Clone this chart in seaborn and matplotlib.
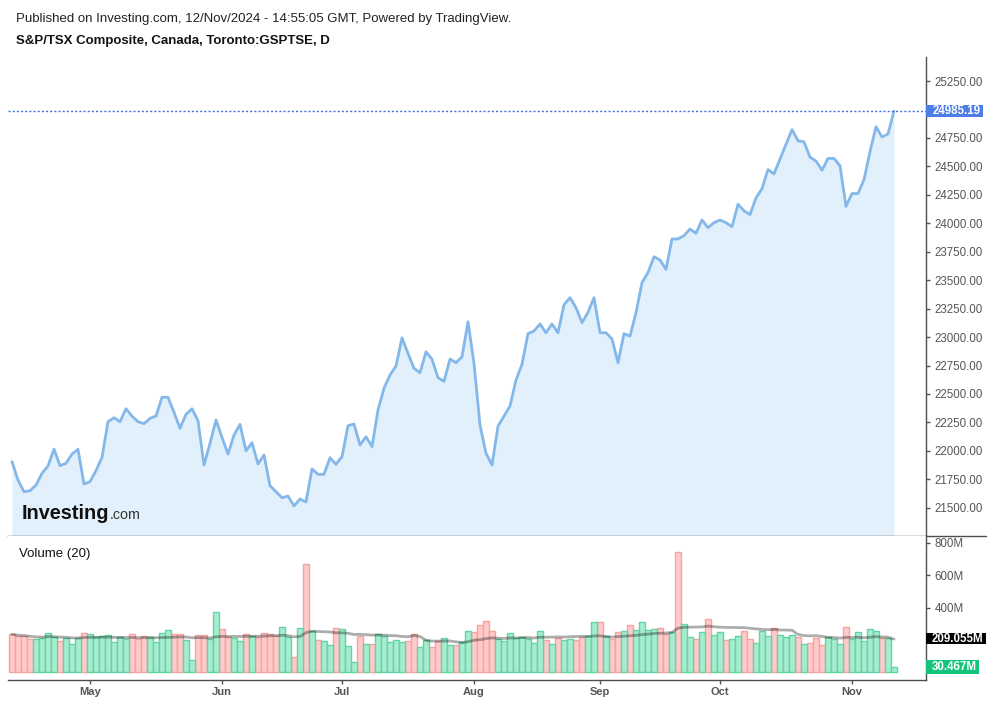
import numpy as np
import pandas as pd
import matplotlib
matplotlib.use("Agg")
import matplotlib.pyplot as plt
import matplotlib.transforms as mtransforms
from matplotlib.patches import Rectangle
from matplotlib.lines import Line2D
import seaborn as sns

sns.set_theme(style="white")
plt.rcParams['font.family'] = ['Liberation Sans', 'DejaVu Sans']

# ---------------- data ----------------
month_labels = ["May", "Jun", "Jul", "Aug", "Sep", "Oct", "Nov"]
month_pos = [13, 35, 55, 77, 98, 118, 140]   # trading-day index of first session of month

close = [21905, 21744, 21641, 21650, 21700, 21803, 21867, 22016, 21870, 21891,
         21972, 22014, 21709, 21729, 21826, 21943, 22256, 22291, 22256, 22370,
         22306, 22256, 22239, 22286, 22306, 22471, 22471, 22339, 22198, 22321,
         22370, 22265, 21876, 22066, 22271, 22119, 21972, 22139, 22233, 22001,
         22072, 21885, 21964, 21694, 21641, 21588, 21603, 21516, 21577, 21551,
         21841, 21794, 21794, 21940, 21882, 21949, 22221, 22236, 22052, 22124,
         22037, 22359, 22550, 22667, 22746, 22994, 22857, 22725, 22687, 22871,
         22805, 22643, 22611, 22807, 22775, 22827, 23135, 22769, 22227, 21979,
         21876, 22218, 22306, 22394, 22623, 22761, 23030, 23053, 23115, 23038,
         23115, 23038, 23284, 23346, 23258, 23126, 23218, 23346, 23038, 23038,
         22983, 22775, 23030, 23009, 23214, 23478, 23566, 23706, 23677, 23595,
         23862, 23862, 23891, 23950, 23912, 24029, 23961, 24005, 24029, 24005,
         23970, 24167, 24110, 24076, 24223, 24304, 24472, 24434, 24564, 24694,
         24823, 24725, 24716, 24580, 24547, 24466, 24570, 24570, 24505, 24148,
         24261, 24261, 24384, 24629, 24849, 24758, 24784, 24985.19]

volume_m = [235, 224, 224, 206, 206, 212, 241, 216, 192, 212,
            173, 212, 241, 235, 220, 224, 229, 185, 216, 204,
            235, 204, 222, 216, 185, 241, 260, 235, 235, 198,
            74, 229, 229, 204, 371, 266, 216, 212, 192, 235,
            224, 220, 243, 235, 224, 278, 216, 93, 272, 668,
            255, 200, 192, 169, 272, 266, 161, 62, 223, 175,
            175, 235, 223, 187, 198, 187, 192, 235, 155, 202,
            155, 192, 210, 167, 167, 185, 254, 247, 292, 315,
            254, 204, 192, 241, 210, 220, 204, 179, 254, 198,
            173, 210, 198, 204, 198, 216, 223, 309, 309, 223,
            204, 247, 254, 291, 260, 309, 260, 266, 272, 235,
            247, 742, 297, 216, 204, 247, 328, 229, 247, 198,
            204, 223, 255, 206, 179, 255, 223, 274, 229, 216,
            229, 216, 173, 179, 210, 167, 216, 204, 173, 278,
            206, 249, 194, 266, 255, 210, 210, 30.467]

direction = list("RRRRGGGGRGGGRGGGGGGGRRRGGGGRRGGRRGGRRGGR"
                 "GRRRRGGRGRGRGGRGGGRGRGGGGGRRGGRRGGRGGRRRRG"
                 "GGGGGGGRGRGGRRGGRGRRGRGGGGRRGRGGRGRGGRGGRRGGGRGGGRGRRRGGGRGGGGGRGG")

price_ticks = [21500 + 250 * k for k in range(16)]
vol_ticks = [0, 200, 400, 600, 800]
vol_tick_labels = ["", "", "400M", "600M", "800M"]
ma_label = "209.055M"
ma_last = 209.055

# ---------------- figure ----------------
W, H = 993, 704
fig = plt.figure(figsize=(W / 100, H / 100), dpi=100)
fig.patch.set_facecolor("white")


def rect(l, t, r, b):
    return [l / W, 1 - b / H, (r - l) / W, (b - t) / H]


axp = fig.add_axes(rect(8, 57, 926, 536))
axv = fig.add_axes(rect(8, 536, 926, 680))

n = len(close)
df = pd.DataFrame({"i": np.arange(n), "close": close, "vol": volume_m,
                   "dir": direction[:n]})
df["ma"] = df["vol"].rolling(20, min_periods=1).mean()

xlim = (-0.667, 152.333)
p_lo, p_hi = 21252, 25461

# price area
axp.fill_between(df["i"], df["close"], p_lo, color="#e1f0fa", lw=0, zorder=1)
sns.lineplot(data=df, x="i", y="close", ax=axp, color="#84b8ea", lw=2, zorder=3)
last = close[-1]
axp.axhline(last, color="#3f6fe0", lw=1, ls=(0, (1.5, 1.5)), zorder=4)
axp.set_xlim(*xlim)
axp.set_ylim(p_lo, p_hi)
axp.set_xticks([])
axp.set_xlabel("")
axp.set_ylabel("")
axp.yaxis.tick_right()
axp.set_yticks(price_ticks)
axp.set_yticklabels([f"{v:.2f}" for v in price_ticks])
axp.tick_params(axis="y", direction="out", length=3, width=1, color="#555555",
                labelcolor="#555555", labelsize=8.3, pad=3, right=True, left=False)
for s in ["left", "top"]:
    axp.spines[s].set_visible(False)
for s in ["right", "bottom"]:
    axp.spines[s].set_color("#4d4d4d")
    axp.spines[s].set_linewidth(1)

# last price label
trp = mtransforms.blended_transform_factory(axp.transAxes, axp.transData)
axp.add_patch(Rectangle((1.0, last - 50), 57 / 918, 100, transform=trp,
                        facecolor="#4d7ee8", edgecolor="none", clip_on=False, zorder=6))
axp.text(1.0 + 7 / 918, last, f"{last:.2f}", transform=trp, ha="left", va="center",
         color="white", fontsize=8.3, fontweight="bold", clip_on=False, zorder=7)

# volume bars
pal = {"G": "#a8ecd0", "R": "#ffcaca"}
sns.barplot(data=df, x="i", y="vol", hue="dir", palette=pal, dodge=False,
            native_scale=True, width=0.92, errorbar=None, legend=False,
            saturation=1, ax=axv, linewidth=1)
edge_for = {matplotlib.colors.to_hex(pal["G"]): "#5fd6a3",
            matplotlib.colors.to_hex(pal["R"]): "#f5a39d"}
for p in axv.patches:
    fc = matplotlib.colors.to_hex(p.get_facecolor()[:3])
    if fc in edge_for:
        p.set_edgecolor(edge_for[fc])
        p.set_linewidth(1)
sns.lineplot(data=df, x="i", y="ma", ax=axv, color="black", alpha=0.32, lw=2, zorder=5)

axv.set_xlim(*xlim)
axv.set_ylim(-47.6, 843)
axv.set_xlabel("")
axv.set_ylabel("")
axv.yaxis.tick_right()
axv.set_yticks(vol_ticks)
axv.set_yticklabels(vol_tick_labels)
axv.tick_params(axis="y", direction="out", length=3, width=1, color="#555555",
                labelcolor="#555555", labelsize=8.3, pad=3, right=True, left=False)
axv.set_xticks(month_pos)
axv.set_xticklabels(month_labels, fontweight="bold")
axv.tick_params(axis="x", direction="out", length=3, width=1, color="#555555",
                labelcolor="#555555", labelsize=8, pad=2, bottom=True)
for s in ["left", "top"]:
    axv.spines[s].set_visible(False)
for s in ["right", "bottom"]:
    axv.spines[s].set_color("#4d4d4d")
    axv.spines[s].set_linewidth(1)

trv = mtransforms.blended_transform_factory(axv.transAxes, axv.transData)
axv.add_patch(Rectangle((1.0, ma_last - 37), 60 / 918, 74, transform=trv,
                        facecolor="black", edgecolor="none", clip_on=False, zorder=6))
axv.text(1.0 + 6 / 918, ma_last, ma_label, transform=trv, ha="left", va="center",
         color="white", fontsize=8.3, fontweight="bold", clip_on=False, zorder=7)
vlast = volume_m[-1]
axv.add_patch(Rectangle((1.0, vlast - 44), 53 / 918, 88, transform=trv,
                        facecolor="#14c47a", edgecolor="none", clip_on=False, zorder=6))
axv.text(1.0 + 6 / 918, vlast, f"{vlast:.3f}M", transform=trv, ha="left", va="center",
         color="white", fontsize=8.3, fontweight="bold", clip_on=False, zorder=7)

axv.text(11 / 918, 1 - 21 / 144, "Volume (20)", transform=axv.transAxes, ha="left",
         va="baseline", fontsize=9.5, color="#131313")

# separator extension under the price scale
fig.add_artist(Line2D([926 / W, 986 / W], [1 - 536 / H, 1 - 536 / H],
                      transform=fig.transFigure, color="#4d4d4d", lw=1))

# header
fig.text(16 / W, 1 - 22 / H,
         "Published on Investing.com, 12/Nov/2024 - 14:55:05 GMT, Powered by TradingView.",
         ha="left", va="baseline", fontsize=9.5, color="#222222")
fig.text(16 / W, 1 - 44 / H, "S&P/TSX Composite, Canada, Toronto:GSPTSE, D",
         ha="left", va="baseline", fontsize=9.5, fontweight="bold", color="#131313")

# watermark logo
fig.text(22 / W, 1 - 519 / H, "Investing", ha="left", va="baseline",
         fontsize=14.3, fontweight="bold", color="#111111")
fig.text(109.5 / W, 1 - 519 / H, ".com", ha="left", va="baseline",
         fontsize=10.3, color="#333333")

fig.savefig("out.png", dpi=100)
